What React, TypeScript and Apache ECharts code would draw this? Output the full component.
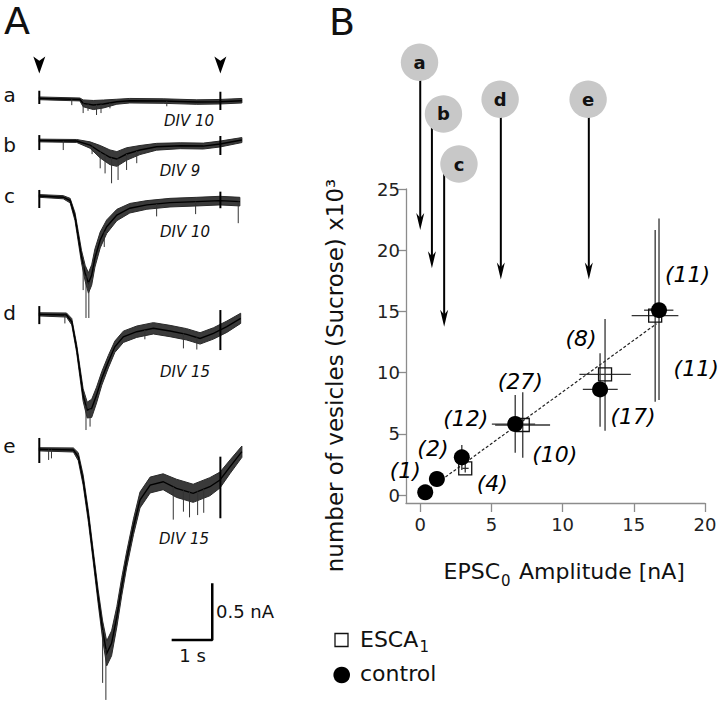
import React, { useEffect, useRef } from 'react';
import * as echarts from 'echarts';

// ---------------- Panel A: sucrose responses (time in s, current in nA re. baseline) ----------------
const traceLetters = ['a', 'b', 'c', 'd', 'e'];
const divLabels = ['DIV 10', 'DIV 9', 'DIV 10', 'DIV 15', 'DIV 15'];

const traceATimes = [0, 1.0, 1.08, 1.33, 1.58, 1.91, 2.23, 3.05, 3.88, 4.45, 4.99];
const traceAValues = [0, -0.01, -0.044, -0.059, -0.05, -0.03, -0.021, -0.024, -0.033, -0.03, -0.021];
const traceANoise = [0.012, 0.013, 0.03, 0.04, 0.035, 0.022, 0.02, 0.02, 0.02, 0.02, 0.02];
const traceASpikes = [[0.8, -0.06], [1.08, -0.13], [1.2, -0.11], [1.41, -0.147], [1.52, -0.13], [1.74, -0.088], [3.14, -0.07]];

const traceBTimes = [0, 0.92, 1.25, 1.5, 1.74, 1.91, 2.15, 2.48, 2.89, 3.47, 4.04, 4.45, 4.99];
const traceBValues = [0, -0.004, -0.04, -0.099, -0.148, -0.163, -0.119, -0.084, -0.055, -0.046, -0.049, -0.031, 0.004];
const traceBNoise = [0.012, 0.013, 0.028, 0.055, 0.065, 0.065, 0.055, 0.04, 0.03, 0.026, 0.026, 0.026, 0.022];
const traceBSpikes = [[0.59, -0.084], [1.3, -0.12], [1.5, -0.245], [1.62, -0.29], [1.78, -0.377], [1.94, -0.348], [2.15, -0.26], [2.4, -0.2]];

const traceCTimes = [0, 0.59, 0.76, 0.88, 0.96, 1.04, 1.13, 1.21, 1.29, 1.37, 1.5, 1.66, 1.91, 2.23, 2.65, 3.22, 3.88, 4.45, 4.94];
const traceCValues = [0, -0.011, -0.041, -0.183, -0.359, -0.535, -0.682, -0.767, -0.697, -0.547, -0.388, -0.271, -0.168, -0.108, -0.079, -0.059, -0.05, -0.041, -0.05];
const traceCNoise = [0.012, 0.014, 0.02, 0.035, 0.045, 0.055, 0.07, 0.09, 0.09, 0.08, 0.07, 0.06, 0.05, 0.042, 0.038, 0.038, 0.038, 0.038, 0.038];
const traceCSpikes = [[1.08, -0.83], [1.15, -1.076], [1.22, -1.076], [1.6, -0.45], [2.89, -0.18], [3.85, -0.16], [4.9, -0.24]];

const traceDTimes = [0, 0.67, 0.8, 0.92, 1.0, 1.08, 1.18, 1.29, 1.41, 1.54, 1.7, 1.86, 2.07, 2.4, 2.81, 3.22, 3.63, 3.96, 4.29, 4.62, 4.96];
const traceDValues = [0, -0.006, -0.065, -0.3, -0.506, -0.712, -0.844, -0.829, -0.712, -0.564, -0.418, -0.286, -0.198, -0.153, -0.123, -0.147, -0.176, -0.212, -0.168, -0.109, -0.035];
const traceDNoise = [0.014, 0.018, 0.028, 0.035, 0.045, 0.055, 0.07, 0.08, 0.07, 0.06, 0.055, 0.05, 0.05, 0.05, 0.05, 0.05, 0.05, 0.05, 0.05, 0.05, 0.045];
const traceDSpikes = [[0.63, -0.08], [1.15, -1.02], [1.25, -0.99], [2.6, -0.22], [3.55, -0.3], [3.88, -0.31]];

const traceETimes = [0, 0.84, 0.96, 1.08, 1.21, 1.33, 1.45, 1.56, 1.66, 1.78, 1.91, 2.03, 2.15, 2.32, 2.48, 2.73, 3.05, 3.38, 3.79, 4.2, 4.45, 4.7, 4.99];
const traceEValues = [0, -0.006, -0.065, -0.271, -0.594, -0.947, -1.3, -1.594, -1.8, -1.711, -1.476, -1.212, -0.976, -0.683, -0.447, -0.315, -0.286, -0.344, -0.388, -0.33, -0.271, -0.153, -0.021];
const traceENoise = [0.014, 0.018, 0.035, 0.045, 0.05, 0.05, 0.06, 0.08, 0.11, 0.11, 0.09, 0.08, 0.07, 0.07, 0.07, 0.07, 0.07, 0.08, 0.08, 0.08, 0.07, 0.06, 0.05];
const traceESpikes = [[0.23, -0.094], [0.3, -0.08], [1.56, -2.06], [1.64, -2.21], [3.3, -0.62], [3.55, -0.55], [3.7, -0.6], [3.9, -0.58], [4.05, -0.56]];

// stimulus (sucrose) start / end, s
const stimTimes = [0, 4.46];
const startTickExtent = [[0.067, -0.05], [0.048, -0.084], [0.053, -0.106], [0.073, -0.086], [0.1, -0.121]];
const endTickExtent = [[0.058, -0.103], [0.04, -0.128], [0.038, -0.108], [0.038, -0.315], [-0.065, -0.608]];

// scale bar: 1 s, 0.5 nA
const scaleBarTime = 1;
const scaleBarCurrent = 0.5;

// ---------------- Panel B ----------------
const ampControl = [0.35, 1.17, 2.92, 6.67, 12.63, 16.77];
const vesControl = [0.22, 1.31, 3.08, 5.8, 8.63, 15.1];
const ampControlErr = [[0.35, 0.35], [1.17, 1.17], [2.92, 2.92], [5.03, 8.07], [11.42, 13.87], [15.72, 17.78]];
const vesControlErr = [[0.22, 0.22], [0.7, 1.9], [2.04, 4.08], [3.46, 8.17], [5.58, 11.58], [7.76, 22.6]];
const nControl = [1, 2, 12, 27, 17, 11];

const ampEsca = [3.16, 7.2, 12.98, 16.5];
const vesEsca = [2.18, 5.72, 9.86, 14.65];
const ampEscaErr = [[2.95, 3.4], [5.26, 9.12], [11.18, 14.79], [14.85, 18.13]];
const vesEscaErr = [[1.85, 2.55], [3.05, 8.39], [5.25, 14.38], [7.62, 21.65]];
const nEsca = [4, 10, 8, 11];

const fitLine = [[0.35, 0.27], [16.6, 14.0]];

const xTicks = [0, 5, 10, 15, 20];
const yTicks = [0, 5, 10, 15, 20, 25];

// arrows marking the amplitudes of the example traces
const arrowAmp = [0.0, 0.82, 1.68, 5.66, 11.84];
const arrowTip = [21.65, 18.52, 13.75, 17.6, 17.6];

// ---------------- layout (not data) ----------------
const traceOffsets = [-0.338, -0.71, -1.199, -2.243, -3.433];
const badgePos = [[-0.05, 35.35], [1.63, 31.13], [2.72, 27.04], [5.61, 32.33], [11.79, 32.33]];
const controlLabelOffsets = [[-20, -22], [-4, -31], [4, -39], [5, -43], [33, 27], [28.5, -36]];
const escaLabelOffsets = [[27, 15], [32, 29], [-24, -36], [41, 53]];
const FONT = '"DejaVu Sans", Verdana, sans-serif';

const traces = [
  { t: traceATimes, v: traceAValues, n: traceANoise, s: traceASpikes },
  { t: traceBTimes, v: traceBValues, n: traceBNoise, s: traceBSpikes },
  { t: traceCTimes, v: traceCValues, n: traceCNoise, s: traceCSpikes },
  { t: traceDTimes, v: traceDValues, n: traceDNoise, s: traceDSpikes },
  { t: traceETimes, v: traceEValues, n: traceENoise, s: traceESpikes },
];

function interp(ts: number[], vs: number[], t: number) {
  for (let k = 0; k < ts.length - 1; k++) {
    if (t >= ts[k] && t <= ts[k + 1]) {
      const f = (t - ts[k]) / (ts[k + 1] - ts[k]);
      return vs[k] + f * (vs[k + 1] - vs[k]);
    }
  }
  return vs[vs.length - 1];
}

function buildOption() {
  const traceSeries = {
    type: 'custom',
    xAxisIndex: 0,
    yAxisIndex: 0,
    silent: true,
    data: traceLetters.map((_, i) => [0, traceOffsets[i]]),
    renderItem: (params: any, api: any) => {
      const i = params.dataIndex;
      const tr = traces[i];
      const off = traceOffsets[i];
      const upper = tr.t.map((t, k) => api.coord([t, off + tr.v[k] + tr.n[k]]));
      const lower = tr.t.map((t, k) => api.coord([t, off + tr.v[k] - tr.n[k]])).reverse();
      const mean = tr.t.map((t, k) => api.coord([t, off + tr.v[k]]));
      const children: any[] = [
        {
          type: 'polygon',
          shape: { points: upper.concat(lower) },
          style: { fill: '#3a3a3a', stroke: '#2a2a2a', lineWidth: 1, lineJoin: 'round' },
        },
        {
          type: 'polyline',
          shape: { points: mean },
          style: { fill: null, stroke: '#000', lineWidth: 1.4 },
        },
      ];
      tr.s.forEach(([t, v]) => {
        const p1 = api.coord([t, off + interp(tr.t, tr.v, t)]);
        const p2 = api.coord([t, off + v]);
        children.push({
          type: 'line',
          shape: { x1: p1[0], y1: p1[1], x2: p2[0], y2: p2[1] },
          style: { stroke: '#333', lineWidth: 1 },
        });
      });
      const ext = [startTickExtent[i], endTickExtent[i]];
      stimTimes.forEach((t, k) => {
        const p1 = api.coord([t, off + ext[k][0]]);
        const p2 = api.coord([t, off + ext[k][1]]);
        children.push({
          type: 'line',
          shape: { x1: p1[0], y1: p1[1], x2: p2[0], y2: p2[1] },
          style: { stroke: '#000', lineWidth: 2 },
        });
      });
      return { type: 'group', children };
    },
  };

  const stimArrows = {
    type: 'scatter',
    xAxisIndex: 0,
    yAxisIndex: 0,
    silent: true,
    symbol: 'arrow',
    symbolRotate: 180,
    symbolSize: [9, 17],
    itemStyle: { color: '#000', opacity: 1 },
    data: stimTimes.map((t) => [t, traceOffsets[0] + 0.22]),
  };

  const scaleBar = {
    type: 'line',
    xAxisIndex: 0,
    yAxisIndex: 0,
    silent: true,
    symbol: 'none',
    lineStyle: { color: '#000', width: 2.5 },
    data: [
      [3.26, -5.115],
      [3.26 + scaleBarTime, -5.115],
      [3.26 + scaleBarTime, -5.115 + scaleBarCurrent],
    ],
  };

  const fit = {
    type: 'line',
    xAxisIndex: 1,
    yAxisIndex: 1,
    silent: true,
    symbol: 'none',
    lineStyle: { color: '#222', width: 1.2, type: [3, 2] },
    data: fitLine,
    z: 2,
  };

  const errRows = [
    ...ampControl.map((x, i) => [x, vesControl[i], ampControlErr[i][0], ampControlErr[i][1], vesControlErr[i][0], vesControlErr[i][1]]),
    ...ampEsca.map((x, i) => [x, vesEsca[i], ampEscaErr[i][0], ampEscaErr[i][1], vesEscaErr[i][0], vesEscaErr[i][1]]),
  ];
  const errorBars = {
    type: 'custom',
    xAxisIndex: 1,
    yAxisIndex: 1,
    silent: true,
    z: 3,
    data: errRows,
    encode: { x: 0, y: 1 },
    renderItem: (_params: any, api: any) => {
      const x = api.value(0), y = api.value(1);
      const h1 = api.coord([api.value(2), y]);
      const h2 = api.coord([api.value(3), y]);
      const v1 = api.coord([x, api.value(4)]);
      const v2 = api.coord([x, api.value(5)]);
      const st = { stroke: '#333', lineWidth: 1.3 };
      return {
        type: 'group',
        children: [
          { type: 'line', shape: { x1: h1[0], y1: h1[1], x2: h2[0], y2: h2[1] }, style: st },
          { type: 'line', shape: { x1: v1[0], y1: v1[1], x2: v2[0], y2: v2[1] }, style: st },
        ],
      };
    },
  };

  const labelBase = {
    show: true,
    position: 'inside',
    fontFamily: FONT,
    fontStyle: 'italic',
    fontSize: 22,
    color: '#000',
    opacity: 1,
    textBorderWidth: 0,
  };

  const esca = {
    type: 'scatter',
    name: 'ESCA1',
    xAxisIndex: 1,
    yAxisIndex: 1,
    silent: true,
    z: 4,
    symbol: 'rect',
    symbolSize: 13,
    itemStyle: { color: 'rgba(255,255,255,0)', borderColor: '#111', borderWidth: 1.3, opacity: 1 },
    data: ampEsca.map((x, i) => ({
      value: [x, vesEsca[i]],
      label: { ...labelBase, formatter: `(${nEsca[i]})`, offset: escaLabelOffsets[i] },
    })),
  };

  const control = {
    type: 'scatter',
    name: 'control',
    xAxisIndex: 1,
    yAxisIndex: 1,
    silent: true,
    z: 5,
    symbol: 'circle',
    symbolSize: 16,
    itemStyle: { color: '#000', opacity: 1 },
    data: ampControl.map((x, i) => ({
      value: [x, vesControl[i]],
      label: { ...labelBase, formatter: `(${nControl[i]})`, offset: controlLabelOffsets[i] },
    })),
  };

  const ampArrows = {
    type: 'custom',
    xAxisIndex: 1,
    yAxisIndex: 1,
    silent: true,
    z: 6,
    data: arrowAmp.map((x, i) => [x, arrowTip[i], badgePos[i][0], badgePos[i][1]]),
    encode: { x: 0, y: 1 },
    renderItem: (params: any, api: any) => {
      const i = params.dataIndex;
      const tip = api.coord([api.value(0), api.value(1)]);
      const top = api.coord([api.value(0), api.value(3)]);
      const c = api.coord([api.value(2), api.value(3)]);
      return {
        type: 'group',
        children: [
          {
            type: 'line',
            shape: { x1: top[0], y1: top[1], x2: tip[0], y2: tip[1] - 10 },
            style: { stroke: '#000', lineWidth: 2 },
          },
          {
            type: 'polygon',
            shape: {
              points: [
                [tip[0], tip[1]],
                [tip[0] - 4, tip[1] - 17],
                [tip[0], tip[1] - 12],
                [tip[0] + 4, tip[1] - 17],
              ],
            },
            style: { fill: '#000' },
          },
          {
            type: 'circle',
            shape: { cx: c[0], cy: c[1], r: 18.7 },
            style: { fill: '#c8c8c8' },
          },
          {
            type: 'text',
            x: c[0],
            y: c[1],
            style: {
              text: traceLetters[i],
              fontSize: 18,
              fontWeight: 'bold',
              fontFamily: FONT,
              fill: '#111',
              align: 'center',
              verticalAlign: 'middle',
            },
          },
        ],
      };
    },
  };

  const txt = (x: number, y: number, text: string, fontSize: number, extra: any = {}, rotation = 0) => ({
    type: 'text',
    x,
    y,
    rotation,
    silent: true,
    style: {
      text,
      fontSize,
      fontFamily: FONT,
      fill: '#111',
      align: 'center',
      verticalAlign: 'middle',
      ...extra,
    },
  });

  const rowLetterY = [94.7, 144.7, 196.3, 313, 446.3];
  const divPos = [[189, 121], [180, 171], [185, 232], [185, 372], [184, 539]];
  const L = { align: 'left' };

  const graphic: any[] = [
    txt(17, 21, 'A', 38),
    txt(342, 22, 'B', 38),
    ...traceLetters.map((l, i) => txt(9.5, rowLetterY[i], l, 20)),
    ...divLabels.map((d, i) => txt(divPos[i][0], divPos[i][1], d, 15, { fontStyle: 'italic' })),
    txt(216, 611, `${scaleBarCurrent} nA`, 18, L),
    txt(192.5, 655, `${scaleBarTime} s`, 18),
    txt(335, 375.5, 'number of vesicles (Sucrose) x10³', 23, {}, Math.PI / 2),
    // x-axis title with a real subscript
    txt(443.5, 571, 'EPSC', 22, L),
    txt(501, 580.5, '0', 15, L),
    txt(519, 571, 'Amplitude [nA]', 22, L),
    // legend
    {
      type: 'rect',
      silent: true,
      shape: { x: 335, y: 633.5, width: 13, height: 13 },
      style: { fill: 'rgba(255,255,255,0)', stroke: '#111', lineWidth: 1.3 },
    },
    txt(360, 639, 'ESCA', 22, L),
    txt(419.5, 646.5, '1', 15, L),
    {
      type: 'circle',
      silent: true,
      shape: { cx: 341.7, cy: 675, r: 8.3 },
      style: { fill: '#000' },
    },
    txt(360, 673.5, 'control', 22, L),
  ];

  const axisGray = '#8c8c8c';
  return {
    animation: false,
    backgroundColor: '#fff',
    grid: [
      { left: 39.3, top: 60, width: 203, height: 623.7 },
      { left: 406, top: 189, width: 299, height: 314 },
    ],
    xAxis: [
      { gridIndex: 0, type: 'value', min: 0, max: 5, show: false },
      {
        gridIndex: 1,
        type: 'value',
        min: -1,
        max: 20,
        axisLine: { show: true, onZero: false, lineStyle: { color: axisGray, width: 1.3 } },
        axisTick: { show: true, length: 9, customValues: xTicks, lineStyle: { color: axisGray, width: 1.3 } },
        axisLabel: { customValues: xTicks, fontSize: 18, color: '#222', fontFamily: FONT, margin: 12 },
        splitLine: { show: false },
      },
    ],
    yAxis: [
      { gridIndex: 0, type: 'value', min: -5.5, max: 0, show: false },
      {
        gridIndex: 1,
        type: 'value',
        min: -0.65,
        max: 25,
        axisLine: { show: true, onZero: false, lineStyle: { color: axisGray, width: 1.3 } },
        axisTick: { show: true, length: 9, customValues: yTicks, lineStyle: { color: axisGray, width: 1.3 } },
        axisLabel: { customValues: yTicks, fontSize: 18, color: '#222', fontFamily: FONT, margin: 6 },
        splitLine: { show: false },
      },
    ],
    series: [traceSeries, stimArrows, scaleBar, fit, errorBars, esca, control, ampArrows],
    graphic,
  };
}

export default function App() {
  const ref = useRef<HTMLDivElement>(null);
  useEffect(() => {
    if (!ref.current) return;
    const chart = echarts.init(ref.current, null, { renderer: 'svg' });
    chart.setOption(buildOption() as any);
    return () => chart.dispose();
  }, []);
  return (
    <div
      ref={ref}
      style={{ position: 'fixed', left: 0, top: 0, width: 720, height: 705, background: '#fff' }}
    />
  );
}
